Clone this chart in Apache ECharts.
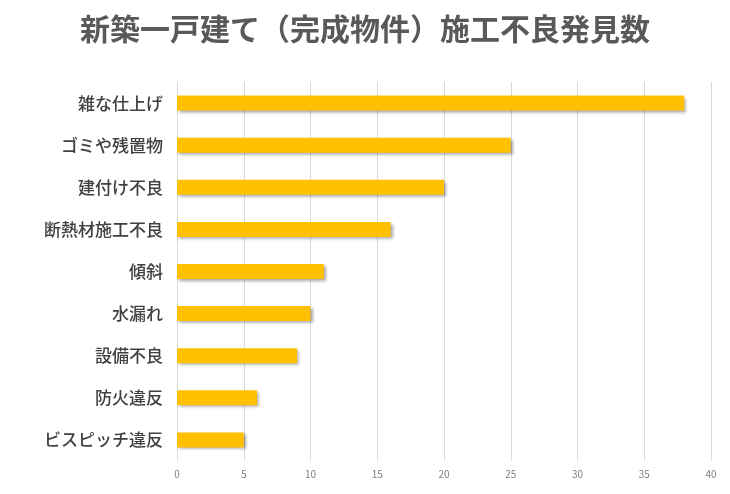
<!DOCTYPE html>
<html><head><meta charset="utf-8">
<script src="https://cdn.jsdelivr.net/npm/echarts@6/dist/echarts.min.js"></script>
<style>html,body{margin:0;padding:0;background:#fff}#c{width:730px;height:494px}</style>
</head><body><div id="c"></div>
<script>
const titleText = '新築一戸建て（完成物件）施工不良発見数';
const categories = ['雑な仕上げ','ゴミや残置物','建付け不良','断熱材施工不良','傾斜','水漏れ','設備不良','防火違反','ビスピッチ違反'];
const values = [38,25,20,16,11,10,9,6,5];
const xTicks = {min:0,max:40,interval:5};
const chart = echarts.init(document.getElementById('c'));
chart.setOption({
  animation:false,
  textStyle:{fontFamily:'"Noto Sans CJK JP", sans-serif'},
  title:{text:titleText,left:'center',top:9,textStyle:{fontSize:30,fontWeight:'bold',color:'#595959',fontFamily:'"Noto Sans CJK JP", sans-serif'}},
  grid:{left:177,right:19,top:82,bottom:33,containLabel:false},
  xAxis:{type:'value',min:xTicks.min,max:xTicks.max,interval:xTicks.interval,
    axisLine:{show:false},axisTick:{show:false},
    axisLabel:{color:'#7f7f7f',fontSize:10,margin:8},
    splitLine:{show:true,lineStyle:{color:'#d9d9d9',width:1}}},
  yAxis:{type:'category',data:categories,inverse:true,
    axisLine:{show:false},axisTick:{show:false},
    axisLabel:{color:'#404040',fontSize:17,fontWeight:500,margin:14}},
  series:[{type:'bar',data:values,barWidth:15,
    itemStyle:{color:'#FFC000',shadowColor:'rgba(0,0,0,0.35)',shadowBlur:3,shadowOffsetX:2,shadowOffsetY:2}}]
});
</script></body></html>
